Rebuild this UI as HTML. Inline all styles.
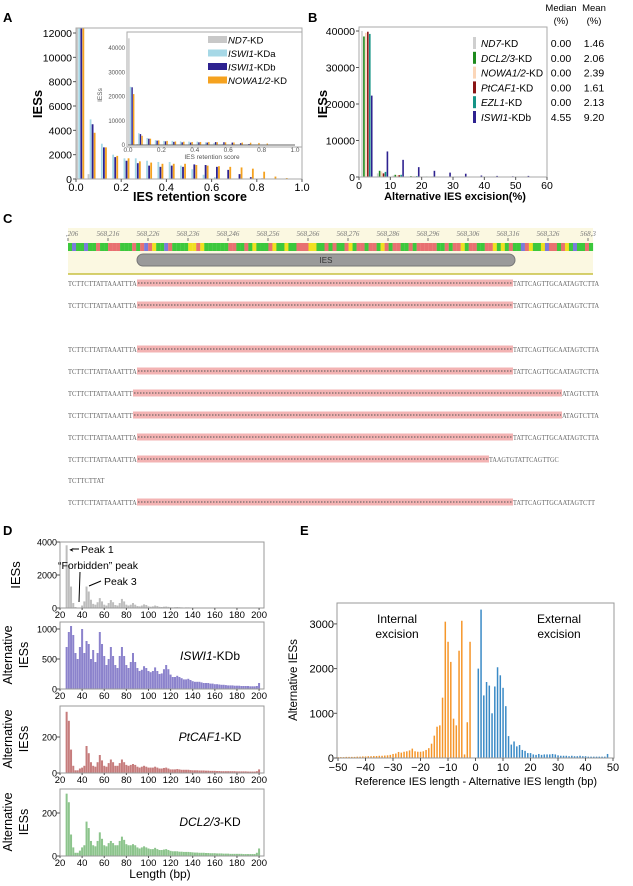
<!DOCTYPE html>
<html><head><meta charset="utf-8">
<style>
body{margin:0;background:#fff;}
svg{display:block;font-family:"Liberation Sans",Arial,sans-serif;}
</style></head>
<body>
<svg id="fig" width="633" height="886" viewBox="0 0 633 886" xmlns="http://www.w3.org/2000/svg">
<text x="3" y="22" font-size="13" font-weight="bold">A</text>
<text x="308" y="22" font-size="13" font-weight="bold">B</text>
<text x="3" y="223" font-size="13" font-weight="bold">C</text>
<text x="3" y="535" font-size="13" font-weight="bold">D</text>
<text x="300" y="535" font-size="13" font-weight="bold">E</text>
</svg>
<script>
// ---------- Panel A data ----------
const aBins=[0,0.05,0.1,0.15,0.2,0.25,0.3,0.35,0.4,0.45,0.5,0.55,0.6,0.65,0.7,0.75,0.8,0.85,0.9,0.95];
const aND7=[44000,400,0,0,0,0,0,0,0,0,0,0,0,0,0,0,0,0,0,0];
const aISWIa=[24000,4900,2900,2000,1700,1700,1500,1400,1400,1100,800,350,150,0,0,0,0,0,0,0];
const aISWIb=[23800,4500,2600,1800,1500,1300,1100,1000,1100,1000,1200,1150,1000,750,400,150,50,0,0,0];
const aNOWA=[21000,3800,2600,1900,1700,1450,1350,1250,1250,1250,1150,1100,1050,1000,950,850,600,200,80,0];
const aYTicks=[0,2000,4000,6000,8000,10000,12000];
const aXTicks=[0,0.2,0.4,0.6,0.8,1.0];
const aInsetYTicks=[0,10000,20000,30000,40000];
// ---------- Panel B data ----------
const bBins=[0,5,10,15,20,25,30,35,40,45,50];
const bND7=[40000,1000,400,150,80,40,20,10,0,0,0];
const bDCL=[38500,1700,600,250,150,80,40,20,10,0,0];
const bNOWA=[39500,1500,500,200,120,60,30,20,10,0,0];
const bCAF=[39800,1000,500,150,80,40,20,10,0,0,0];
const bEZL=[39200,1400,600,250,150,80,40,20,10,0,0];
const bISWI=[22300,7000,4700,2700,1700,1200,900,400,300,200,300];
const bYTicks=[0,10000,20000,30000,40000];
const bXTicks=[0,10,20,30,40,50,60];
const bMedian=["0.00","0.00","0.00","0.00","0.00","4.55"];
const bMean=["1.46","2.06","2.39","1.61","2.13","9.20"];
// ---------- Panel D data (2-bp bins, centers 26..200) ----------
const dND7=[3800,2600,1300,300,60,20,30,150,400,1300,1000,500,250,200,350,600,400,200,150,300,480,350,180,150,300,550,400,200,150,200,300,200,120,100,150,220,180,100,80,100,150,120,70,60,80,90,70,50,40,50,60,50,40,30,40,40,35,30,25,30,30,25,20,20,25,20,20,15,15,15,15,15,12,12,12,10,10,10,10,10,10,8,8,8,8,8,8,20];
const dISWI=[700,950,1050,900,600,500,700,1000,600,800,750,500,650,450,600,950,750,550,400,500,700,550,400,350,550,700,550,400,350,450,600,450,350,300,320,380,350,300,280,300,360,300,250,260,330,400,330,240,200,200,220,200,180,160,160,170,150,130,120,120,120,110,100,100,100,90,90,80,80,75,70,70,65,60,60,60,55,55,55,50,50,50,50,45,45,45,50,100];
const dCAF=[340,290,130,40,15,15,25,30,40,150,110,60,40,35,60,100,70,40,35,55,75,60,40,40,55,75,60,45,40,45,50,45,35,30,35,40,35,30,30,30,35,30,25,25,28,30,25,20,20,20,22,20,18,18,18,18,16,15,15,15,14,14,14,13,13,12,12,12,11,11,10,10,10,10,10,10,10,9,9,9,9,9,8,8,8,8,10,20];
const dDCL=[290,250,100,40,15,15,25,40,50,160,130,70,50,45,70,110,80,50,45,60,70,60,50,50,70,90,75,55,50,50,55,50,40,35,40,45,40,35,32,32,38,32,28,28,30,32,28,24,22,22,22,20,20,19,19,19,18,17,16,16,15,15,15,14,14,13,13,13,12,12,12,11,11,11,10,10,10,10,10,10,9,9,9,9,9,9,15,35];
const dXTicks=[20,40,60,80,100,120,140,160,180,200];
// ---------- Panel E data ----------
const eNeg=[20,20,20,25,25,25,25,30,30,35,35,40,40,45,45,50,50,55,60,70,90,100,135,120,140,150,170,210,150,140,140,150,180,220,320,500,700,730,1350,3050,2600,2150,880,730,2400,3070,80,800,2600,0];
const ePos=[2000,3320,1400,1700,1620,1000,1600,2030,1850,1570,1160,490,300,370,260,290,180,160,110,110,80,70,90,70,80,80,80,90,80,60,50,50,50,40,50,40,40,50,40,40,30,30,30,30,30,30,30,90,0,0];
const eYTicks=[0,1000,2000,3000];
const eXTicks=[-50,-40,-30,-20,-10,0,10,20,30,40,50];

const NS="http://www.w3.org/2000/svg";
const svg=document.getElementById('fig');
function el(tag,parent){const e=document.createElementNS(NS,tag);(parent||svg).appendChild(e);return e;}
function rect(x,y,w,h,fill,name,parent){
  const r=el('rect',parent);
  r.setAttribute('x',x);r.setAttribute('y',y);r.setAttribute('width',Math.max(0,w));r.setAttribute('height',Math.max(0,h));r.setAttribute('fill',fill);
  
  
  return r;
}
function frame(x,y,w,h,name,stroke){const r=rect(x,y,w,h,'none',name);r.setAttribute('stroke',stroke||'#999');r.setAttribute('stroke-width','1');return r;}
function text(x,y,s,size,name,anchor,extra){
  const t=el('text');
  t.setAttribute('x',x);t.setAttribute('y',y);t.setAttribute('font-size',size);
  if(anchor)t.setAttribute('text-anchor',anchor);
  if(extra)for(const k in extra)t.setAttribute(k,extra[k]);
  t.innerHTML=s;
  
  
  return t;
}
function line(x1,y1,x2,y2,stroke,name,w){
  const l=el('line');
  l.setAttribute('x1',x1);l.setAttribute('y1',y1);l.setAttribute('x2',x2);l.setAttribute('y2',y2);l.setAttribute('stroke',stroke);l.setAttribute('stroke-width',w||1);
  
  
  return l;
}
function clip(id,x,y,w,h){const c=el('clipPath');c.setAttribute('id',id);const r=el('rect',c);r.setAttribute('x',x);r.setAttribute('y',y);r.setAttribute('width',w);r.setAttribute('height',h);}

// ================= Panel A =================
(function(){
  const L=76,R=302,T=28,B=179;
  const xs=v=>L+v*(R-L), ys=v=>B-v*(146/12000);
  clip('clipA',L,T,R-L,B-T);
  const g=el('g');g.setAttribute('clip-path','url(#clipA)');
  
  
  const series=[[aND7,'#c8c8c8','nd7'],[aISWIa,'#a6d8e6','iswi1-kda'],[aISWIb,'#2d2290','iswi1-kdb'],[aNOWA,'#f5a21f','nowa']];
  aBins.forEach((b,i)=>{series.forEach((s,j)=>{const v=s[0][i];if(v<=0)return;const x=xs(b)+0.3+j*2.05;rect(x,ys(v),1.8,B-ys(v),s[1],'bar-a-'+s[2],g);});});
  frame(L,T,R-L,B-T,'panel-a-frame','#aaa');
  aYTicks.forEach(v=>{line(L-3,ys(v),L,ys(v),'#555','a-y-tick');text(L-4,ys(v)+4,v,10.5,'a-y-tick-label','end');});
  aXTicks.forEach(v=>{line(xs(v),B,xs(v),B+3,'#555','a-x-tick');text(xs(v),B+12,v.toFixed(1),11,'a-x-tick-label','middle');});
  text(38,100,'IESs',13,'a-y-axis-title','middle',{'font-weight':'bold',transform:'rotate(-90 42 100)'});
  text(190,201,'IES retention score',12.5,'a-x-axis-title','middle',{'font-weight':'bold'});
  // inset
  const IL=127,IT=32,IR=302,IB=147;
  rect(IL,IT,IR-IL,IB-IT,'#fff','a-inset-bg');
  const ix=v=>128+v*(295-128), iy=v=>145-v*(97/40000);
  aBins.forEach((b,i)=>{series.forEach((s,j)=>{const v=s[0][i];if(v<=0)return;const x=ix(b)+0.2+j*1.6;rect(x,iy(v),1.4,145-iy(v),s[1],'inset-bar-'+s[2]);});});
  frame(IL,IT,IR-IL,IB-IT,'a-inset-frame','#aaa');
  line(128,145,295,145,'#666','a-inset-x-axis');
  aInsetYTicks.forEach(v=>text(125,iy(v)+2,v,6,'a-inset-y-tick-label','end',{fill:'#555'}));
  aXTicks.forEach(v=>text(ix(v),152,v.toFixed(1),6.5,'a-inset-x-tick-label','middle',{fill:'#555'}));
  text(212,159,'IES retention score',6.5,'a-inset-x-title','middle',{fill:'#555'});
  text(102,95,'IESs',6.5,'a-inset-y-title','middle',{fill:'#555',transform:'rotate(-90 102 95)'});
  const leg=[['#c8c8c8','<tspan font-style="italic">ND7</tspan>-KD'],['#a6d8e6','<tspan font-style="italic">ISWI1</tspan>-KDa'],['#2d2290','<tspan font-style="italic">ISWI1</tspan>-KDb'],['#f5a21f','<tspan font-style="italic">NOWA1/2</tspan>-KD']];
  leg.forEach((l,i)=>{const y=40+i*13.5;rect(208,y-4,19,7,l[0],'a-legend-swatch');text(228,y+3.5,l[1],9.5,'a-legend-entry');});
})();

// ================= Panel B =================
(function(){
  const L=359,R=547,T=27,B=177;
  const xs=v=>L+v*((R-L)/60), ys=v=>B-v*(146/40000);
  const series=[[bND7,'#cfcfcf','nd7'],[bDCL,'#1d8a1d','dcl23'],[bNOWA,'#fbd6b8','nowa12'],[bCAF,'#8a1414','ptcaf1'],[bEZL,'#159486','ezl1'],[bISWI,'#2e2290','iswi1']];
  bBins.forEach((b,i)=>{series.forEach((s,j)=>{const v=s[0][i];if(v<=0)return;const x=xs(b+0.7)+j*1.95;rect(x,ys(v),1.6,B-ys(v),s[1],'bar-b-'+s[2]);});});
  frame(L,T,R-L,B-T,'panel-b-frame','#aaa');
  bYTicks.forEach(v=>{line(L-3,ys(v),L,ys(v),'#555','b-y-tick');text(L-4,ys(v)+4,v,10.5,'b-y-tick-label','end');});
  bXTicks.forEach(v=>{line(xs(v),B,xs(v),B+3,'#555','b-x-tick');text(xs(v),B+12,v,10.5,'b-x-tick-label','middle');});
  text(323,100,'IESs',13,'b-y-axis-title','middle',{'font-weight':'bold',transform:'rotate(-90 327 100)'});
  text(455,200,'Alternative IES excision(%)',11,'b-x-axis-title','middle',{'font-weight':'bold'});
  const names=['<tspan font-style="italic">ND7</tspan>-KD','<tspan font-style="italic">DCL2/3</tspan>-KD','<tspan font-style="italic">NOWA1/2</tspan>-KD','<tspan font-style="italic">PtCAF1</tspan>-KD','<tspan font-style="italic">EZL1</tspan>-KD','<tspan font-style="italic">ISWI1</tspan>-KDb'];
  names.forEach((n,i)=>{const y=42+i*14.8;rect(473,y-5,3,12,series[i][1],'b-legend-swatch');text(481,y+5,n,10,'b-legend-entry');text(561,y+5,bMedian[i],10.5,'b-median-value','middle');text(594,y+5,bMean[i],10.5,'b-mean-value','middle');});
  text(561,11,'Median',9.5,'b-median-header','middle');text(561,24,'(%)',9.5,'b-median-unit','middle');
  text(594,11,'Mean',9.5,'b-mean-header','middle');text(594,24,'(%)',9.5,'b-mean-unit','middle');
})();

// ================= Panel C =================
(function(){
  const seq="TCTTCTTATTAAATTTATACAGTTCATTTTGGAGTTTTTTAATTATGTTTAGTTGTTAAAGGTTATATTAGTAATAATGATAATTATAAAAATTATAAGTAATTAAGTGTATTCAGTTGCAATAGTCTTA";
  rect(68,228,525,46,'#fbf8e1','c-track-bg');
  line(68,274,593,274,'#c8c040','c-track-border',1.5);
  const labels=[',206','568,216','568,226','568,236','568,246','568,256','568,266','568,276','568,286','568,296','568,306','568,316','568,326','568,3'];
  labels.forEach((l,i)=>{const x=68+i*40;text(x+(i?0:4),236,l,7,'c-ruler-label','middle',{fill:'#777','font-family':'Liberation Serif, serif','font-style':'italic'});line(x,238,x,241,'#777','c-ruler-tick');});
  const col={T:'#3cc83c',A:'#e87070',G:'#f0e020',C:'#7a7adc'};
  const n=131,w=525/n;
  for(let i=0;i<n;i++){const c=seq[i%seq.length];rect(68+i*w,243,w+0.1,8,col[c],'c-base-'+c);}
  const pill=rect(137,254,378,12,'#9a9a9a','c-ies-feature');pill.setAttribute('rx',6);pill.setAttribute('stroke','#777');
  text(326,263,'IES',8,'c-ies-label','middle',{fill:'#333'});
  const rows=[[283,137,513,'TCTTCTTATTAAATTTA','TATTCAGTTGCAATAGTCTTA'],[305,137,513,'TCTTCTTATTAAATTTA','TATTCAGTTGCAATAGTCTTA'],
    [349,137,513,'TCTTCTTATTAAATTTA','TATTCAGTTGCAATAGTCTTA'],[371,137,513,'TCTTCTTATTAAATTTA','TATTCAGTTGCAATAGTCTTA'],
    [393,133,562,'TCTTCTTATTAAATTT','ATAGTCTTA'],[415,133,562,'TCTTCTTATTAAATTT','ATAGTCTTA'],
    [437,137,513,'TCTTCTTATTAAATTTA','TATTCAGTTGCAATAGTCTTA'],[459,137,489,'TCTTCTTATTAAATTTA','TAAGTGTATTCAGTTGC'],
    [480,null,null,'TCTTCTTAT',''],[502,137,513,'TCTTCTTATTAAATTTA','TATTCAGTTGCAATAGTCTT']];
  rows.forEach(r=>{
    const [y,a,b,l,rt]=r;
    text(68,y+3,l,7,'c-read-left',null,{fill:'#666','font-family':'Liberation Serif, serif',textLength:l.length*4.05,lengthAdjust:'spacingAndGlyphs'});
    if(a!==null){rect(a,y-3.5,b-a,7,'#f3b3b3','c-read-gap');const d=line(a+1,y,b-1,y,'#555','c-gap-dashes',1);d.setAttribute('stroke-dasharray','1.5 1.5');
      text(b,y+3,rt,7,'c-read-right',null,{fill:'#666','font-family':'Liberation Serif, serif',textLength:rt.length*4.1,lengthAdjust:'spacingAndGlyphs'});}
  });
})();

// ================= Panel D =================
(function(){
  const L=60,R=264;
  const xs=v=>L+(v-20)*1.106;
  const panels=[[dND7,'#bdbdbd',542,608,4000,[0,2000,4000],'nd7'],[dISWI,'#8b82cc',622,689,1100,[0,500,1000],'iswi1'],[dCAF,'#c67c7c',706,773,370,[0,200],'ptcaf1'],[dDCL,'#8cc48c',789,856,310,[0,200],'dcl23']];
  const scale=[66/4000,60/1000,36/200,43/200];
  panels.forEach((p,k)=>{
    const [data,color,T,B,,ticks,nm]=p;
    const ys=v=>B-v*scale[k];
    data.forEach((v,i)=>{const c=26+i*2;const h=Math.min(B-ys(v),B-T-1);rect(xs(c-1)+0.1,B-h,2.0,h,color,'bar-d-'+nm);});
    frame(L,T,R-L,B-T,'d-frame-'+nm,'#999');
    ticks.forEach(v=>{line(L-3,ys(v),L,ys(v),'#555','d-y-tick');text(L-3,ys(v)+3.5,v,9,'d-y-tick-label','end');});
    dXTicks.forEach(v=>{line(xs(v),B,xs(v),B+2,'#555','d-x-tick');text(xs(v),B+10,v,9.5,'d-x-tick-label','middle');});
  });
  text(20,575,'IESs',13,'d-y-title-nd7','middle',{transform:'rotate(-90 20 575)'});
  [[655,'iswi1'],[739,'ptcaf1'],[822,'dcl23']].forEach(a=>{
    text(12,a[0],'Alternative',12.5,'d-y-title-'+a[1],'middle',{transform:'rotate(-90 12 '+a[0]+')'});
    text(28,a[0],'IESs',12.5,'d-y-title2-'+a[1],'middle',{transform:'rotate(-90 28 '+a[0]+')'});
  });
  text(210,660,'<tspan font-style="italic">ISWI1</tspan>-KDb',12,'d-label-iswi1','middle');
  text(210,741,'<tspan font-style="italic">PtCAF1</tspan>-KD',12,'d-label-ptcaf1','middle');
  text(210,826,'<tspan font-style="italic">DCL2/3</tspan>-KD',12,'d-label-dcl23','middle');
  text(160,878,'Length (bp)',12,'d-x-axis-title','middle');
  text(81,553,'Peak 1',10.5,'d-annot-peak1');
  line(79,549,72,549,'#000','d-arrow-peak1');text(70,552,'➤',6,'d-arrowhead-peak1',null,{transform:'rotate(180 72 550)'});
  text(58,569,'“Forbidden” peak',10.5,'d-annot-forbidden');
  line(80,572,79,602,'#000','d-arrow-forbidden');
  text(104,585,'Peak 3',10.5,'d-annot-peak3');
  line(101,581,89,586,'#000','d-arrow-peak3');
})();

// ================= Panel E =================
(function(){
  const L=337,R=614,T=603,B=758;
  const xs=v=>338+(v+50)*2.75, ys=v=>B-v*(44.7/1000);
  eNeg.forEach((v,i)=>{const c=-50+i;if(v<=0)return;rect(xs(c)-0.7,ys(v),1.5,B-ys(v),'#f5962a','bar-e-internal');});
  ePos.forEach((v,i)=>{const c=1+i;if(v<=0)return;rect(xs(c)-0.7,ys(v),1.5,B-ys(v),'#3a8ac6','bar-e-external');});
  frame(L,T,R-L,B-T,'panel-e-frame','#999');
  eYTicks.forEach(v=>{line(L-3,ys(v),L,ys(v),'#555','e-y-tick');text(L-3,ys(v)+4,v,11,'e-y-tick-label','end');});
  eXTicks.forEach(v=>{line(xs(v),B,xs(v),B+3,'#555','e-x-tick');text(xs(v),B+13,v<0?'−'+(-v):v,11,'e-x-tick-label','middle');});
  text(297,680,'Alternative IESs',11.5,'e-y-axis-title','middle',{transform:'rotate(-90 297 680)'});
  text(476,785,'Reference IES length - Alternative IES length (bp)',11,'e-x-axis-title','middle');
  text(397,623,'Internal',12,'e-annot-internal','middle');text(397,638,'excision',12,'e-annot-internal-2','middle');
  text(559,623,'External',12,'e-annot-external','middle');text(559,638,'excision',12,'e-annot-external-2','middle');
})();
</script>
</body></html>
